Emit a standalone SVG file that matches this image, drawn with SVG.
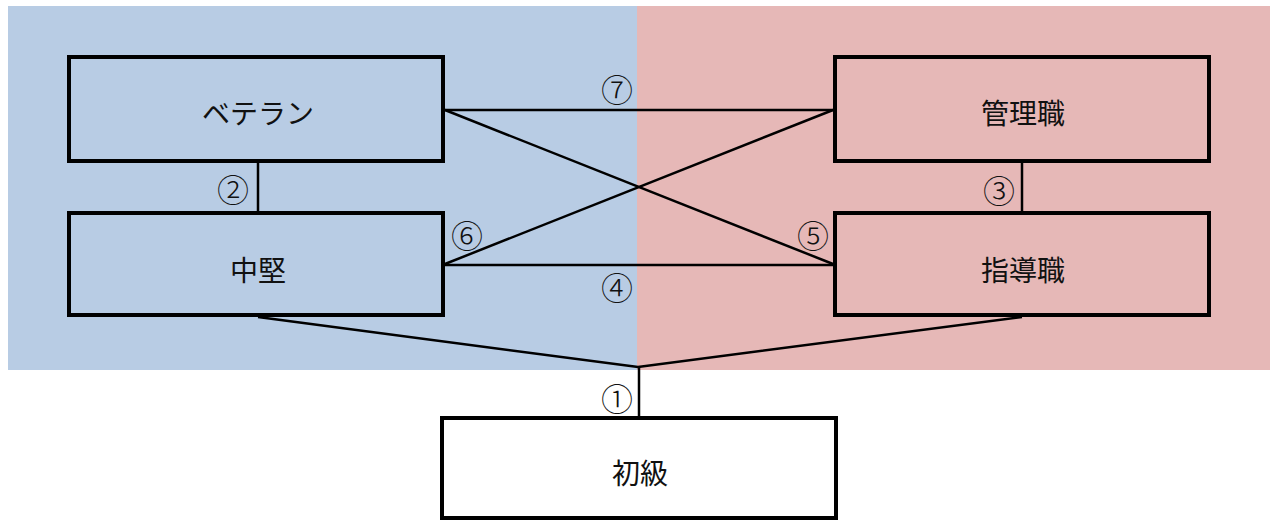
<svg xmlns="http://www.w3.org/2000/svg" width="1273" height="522" viewBox="0 0 1273 522">
<style>
.box{stroke:#000;stroke-width:4;}
.lbl{font-family:"Noto Sans CJK JP","Noto Sans",sans-serif;font-size:28px;fill:#111;text-anchor:middle;dominant-baseline:central;}
.num{font-family:"Noto Sans CJK JP",sans-serif;font-size:32px;fill:#111;text-anchor:middle;dominant-baseline:central;font-weight:300;}
.con{stroke:#000;stroke-width:2.5;fill:none;}
</style>
<rect x="0" y="0" width="1273" height="522" fill="#fff"/>
<rect x="8" y="6" width="629" height="364" fill="#B8CCE4"/>
<rect x="637" y="6" width="633" height="364" fill="#E6B8B7"/>
<g id="connectors">
<line class="con" x1="258" y1="163" x2="258" y2="211"/>
<line class="con" x1="1022" y1="163" x2="1022" y2="211"/>
<line class="con" x1="445" y1="110" x2="833" y2="110"/>
<line class="con" x1="445" y1="110" x2="833" y2="264"/>
<line class="con" x1="445" y1="264" x2="833" y2="110"/>
<line class="con" x1="445" y1="265" x2="833" y2="265"/>
<polyline class="con" points="258,317 638,367 1022,317"/>
<line class="con" x1="639" y1="367" x2="639" y2="418"/>
<text class="num" x="617" y="397">①</text>
<text class="num" x="233" y="188">②</text>
<text class="num" x="999" y="189">③</text>
<text class="num" x="617" y="286">④</text>
<text class="num" x="813" y="234">⑤</text>
<text class="num" x="467" y="234">⑥</text>
<text class="num" x="617" y="88">⑦</text>
</g>
<g id="veteran">
<rect class="box" x="69" y="57" width="374" height="104" fill="#B8CCE4"/>
<text class="lbl" x="258" y="112">ベテラン</text>
</g>
<g id="chuken">
<rect class="box" x="69" y="213" width="374" height="102" fill="#B8CCE4"/>
<text class="lbl" x="258" y="269">中堅</text>
</g>
<g id="kanrishoku">
<rect class="box" x="835" y="57" width="374" height="104" fill="#E6B8B7"/>
<text class="lbl" x="1023" y="112">管理職</text>
</g>
<g id="shidoshoku">
<rect class="box" x="835" y="213" width="374" height="102" fill="#E6B8B7"/>
<text class="lbl" x="1023" y="269">指導職</text>
</g>
<g id="shokyu">
<rect class="box" x="442" y="418" width="394" height="100" fill="#fff"/>
<text class="lbl" x="640" y="472">初級</text>
</g>
</svg>
